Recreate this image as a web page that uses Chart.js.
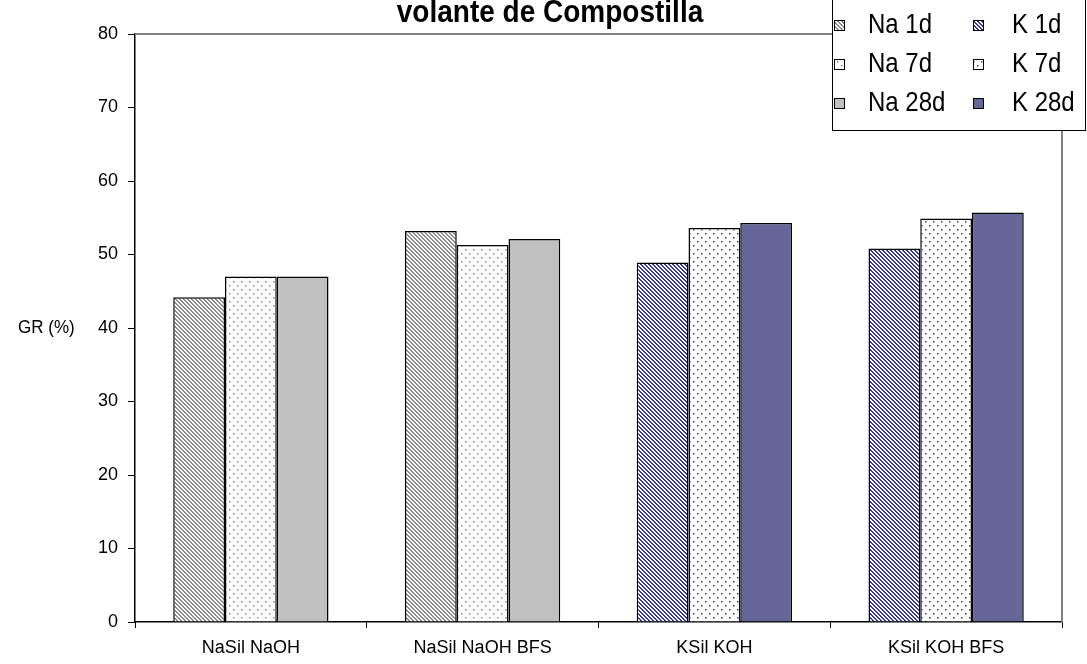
<!DOCTYPE html>
<html lang="es">
<head>
<meta charset="UTF-8">
<title>GR (%)</title>
<script src="https://cdn.jsdelivr.net/npm/chart.js"></script>
<style>
  body { margin: 0; background: #fff; }
  #wrap { width: 1087px; height: 664px; }
</style>
</head>
<body>
<div id="wrap"><canvas id="grChart" width="1087" height="664"></canvas></div>
<script>
// data
const categories = ["NaSil NaOH", "NaSil NaOH BFS", "KSil KOH", "KSil KOH BFS"];
const na1d  = [44.2, 53.2, null, null];
const na7d  = [47.0, 51.3, null, null];
const na28d = [47.0, 52.1, null, null];
const k1d   = [null, null, 48.9, 50.8];
const k7d   = [null, null, 53.6, 54.9];
const k28d  = [null, null, 54.3, 55.7];
const yTicks = [0, 10, 20, 30, 40, 50, 60, 70, 80];

const titleText = "volante de Compostilla";
const yLabel = "GR (%)";

// fill patterns like the old Excel ones
function hatch(color) {
    const c = document.createElement("canvas");
    c.width = 4; c.height = 4;
    const g = c.getContext("2d");
    g.fillStyle = "#fff";
    g.fillRect(0, 0, 4, 4);
    g.fillStyle = color;
    for (let i = 0; i < 4; i++) {
        g.fillRect(i, i, 1, 1);
        g.fillRect((i + 1) % 4, i, 1, 1);
    }
    return g.createPattern(c, "repeat");
}
function dots(color) {
    const c = document.createElement("canvas");
    c.width = 8; c.height = 8;
    const g = c.getContext("2d");
    g.fillStyle = "#fff";
    g.fillRect(0, 0, 8, 8);
    g.fillStyle = color;
    g.fillRect(1, 1, 1.5, 1.5);
    g.fillRect(5, 5, 1.5, 1.5);
    return g.createPattern(c, "repeat");
}

const fills = {
    na1d: hatch("#8a8a8a"),
    na7d: dots("#8a8a8a"),
    na28d: "#c0c0c0",
    k1d: hatch("#3a3a96"),
    k7d: dots("#3a3a96"),
    k28d: "#666699"
};

function ds(label, data, fill, stack) {
    return {
        label: label,
        data: data,
        backgroundColor: fill,
        borderColor: "#000",
        borderWidth: 1.5,
        stack: stack
    };
}

const FONT = "Arial, 'Liberation Sans', sans-serif";

// text a little taller than wide, as in the original picture
function tallText(ctx, text, x, y, sy) {
    ctx.save();
    ctx.translate(x, y);
    ctx.scale(1, sy);
    ctx.fillText(text, 0, 0);
    ctx.restore();
}

// title, horizontal y label, plot frame and the boxed legend
const extras = {
    id: "extras",
    beforeDatasetsDraw(chart) {
        const ctx = chart.ctx, a = chart.chartArea;
        ctx.save();
        ctx.strokeStyle = "#808080";
        ctx.lineWidth = 2;
        ctx.beginPath();
        ctx.moveTo(a.left, a.top);
        ctx.lineTo(a.right, a.top);
        ctx.lineTo(a.right, a.bottom);
        ctx.stroke();
        ctx.restore();
    },
    afterDraw(chart) {
        const ctx = chart.ctx;
        ctx.save();
        ctx.fillStyle = "#000";
        ctx.font = "bold 28px " + FONT;
        ctx.textAlign = "center";
        ctx.textBaseline = "alphabetic";
        tallText(ctx, titleText, 550, 22, 1.1);

        ctx.font = "17px " + FONT;
        ctx.textAlign = "left";
        ctx.textBaseline = "middle";
        tallText(ctx, yLabel, 18, 328, 1.1);

        // legend box
        ctx.fillStyle = "#fff";
        ctx.fillRect(832, -1, 253, 132);
        ctx.strokeStyle = "#000";
        ctx.lineWidth = 1;
        ctx.strokeRect(832.5, -1.5, 253, 132);

        const items = [
            [0, 0], [3, 1],
            [1, 0], [4, 1],
            [2, 0], [5, 1]
        ];
        const rowY = [25, 64, 103];
        const colBox = [834, 973];
        const colText = [868, 1012];
        ctx.font = "24px " + FONT;
        items.forEach((it, n) => {
            const d = chart.data.datasets[it[0]];
            const y = rowY[Math.floor(n / 2)];
            const x = colBox[it[1]];
            ctx.fillStyle = d.backgroundColor;
            ctx.fillRect(x, y - 5, 10, 10);
            ctx.strokeStyle = "#000";
            ctx.strokeRect(x + 0.5, y - 4.5, 10, 10);
            ctx.fillStyle = "#000";
            tallText(ctx, d.label, colText[it[1]], y + 1, 1.12);
        });
        ctx.restore();
    }
};

new Chart(document.getElementById("grChart"), {
    type: "bar",
    data: {
        labels: categories,
        datasets: [
            ds("Na 1d", na1d, fills.na1d, "s1"),
            ds("Na 7d", na7d, fills.na7d, "s2"),
            ds("Na 28d", na28d, fills.na28d, "s3"),
            ds("K 1d", k1d, fills.k1d, "s1"),
            ds("K 7d", k7d, fills.k7d, "s2"),
            ds("K 28d", k28d, fills.k28d, "s3")
        ]
    },
    options: {
        responsive: false,
        animation: false,
        layout: { padding: { top: 34, right: 25, left: 0, bottom: 0 } },
        categoryPercentage: 0.67,
        barPercentage: 1.0,
        plugins: {
            legend: { display: false },
            title: { display: false },
            tooltip: { enabled: false }
        },
        scales: {
            x: {
                stacked: true,
                afterFit(scale) { scale.height = 42; },
                grid: { display: true, drawOnChartArea: false, drawTicks: true, tickLength: 6, color: "#000", offset: true },
                border: { color: "#000", width: 1.5 },
                ticks: { color: "#000", font: { family: FONT, size: 18 }, padding: 9, maxRotation: 0 }
            },
            y: {
                stacked: true,
                min: 0,
                max: 80,
                afterFit(scale) { scale.width = 135; },
                afterBuildTicks(scale) { scale.ticks = yTicks.map(v => ({ value: v })); },
                grid: { display: true, drawOnChartArea: false, drawTicks: true, tickLength: 7, color: "#000" },
                border: { color: "#000", width: 1.5 },
                ticks: { color: "#000", font: { family: FONT, size: 18 }, padding: 10 }
            }
        }
    },
    plugins: [extras]
});
</script>
</body>
</html>
